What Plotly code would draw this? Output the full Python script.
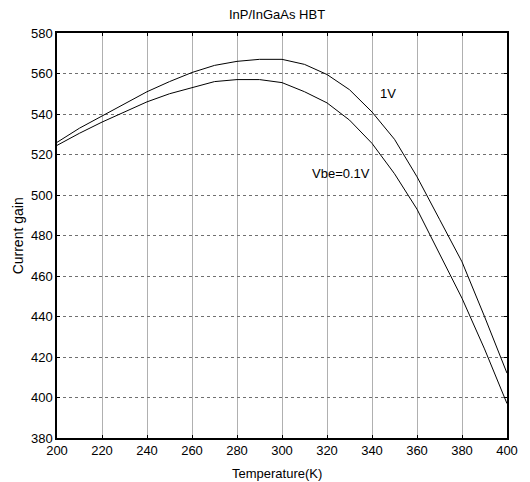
import plotly.graph_objects as go

temperature = [200, 210, 220, 230, 240, 250, 260, 270, 280, 290, 300,
               310, 320, 330, 340, 350, 360, 370, 380, 390, 400]
gain_1v = [526, 533, 539, 545, 551, 556, 560.5, 564, 566, 567, 567,
           564.5, 559.5, 552, 541, 527.5, 509, 488, 467, 440, 412]
gain_01v = [524.5, 530.5, 536, 541, 546, 550, 553, 556, 557, 557, 555.5,
            551, 545.5, 537, 525.5, 510.5, 493, 471, 449, 424, 397]

x_ticks = [200, 220, 240, 260, 280, 300, 320, 340, 360, 380, 400]
y_ticks = [380, 400, 420, 440, 460, 480, 500, 520, 540, 560, 580]

fam = "Liberation Sans, Arial, sans-serif"
font = dict(family=fam, size=13, color="black")

fig = go.Figure()
fig.add_trace(go.Scatter(x=temperature, y=gain_1v, mode="lines",
                         line=dict(color="black", width=1), showlegend=False))
fig.add_trace(go.Scatter(x=temperature, y=gain_01v, mode="lines",
                         line=dict(color="black", width=1), showlegend=False))

fig.add_annotation(x=347, y=550, text="1V", showarrow=False, font=font,
                   xref="x", yref="y", xanchor="center", yanchor="middle")
fig.add_annotation(x=326, y=510.7, text="Vbe=0.1V", showarrow=False, font=font,
                   xref="x", yref="y", xanchor="center", yanchor="middle")

W, H = 530, 482
L, R, T, B = 57, 13, 33, 44
PW, PH = W - L - R, H - T - B

fig.add_annotation(x=(282 - L) / PW, y=(H - 15 - B) / PH,
                   xref="paper", yref="paper", text="InP/InGaAs HBT",
                   showarrow=False, font=font, xanchor="center", yanchor="middle")
fig.add_annotation(x=(282 - L) / PW, y=-(474 - (H - B)) / PH,
                   xref="paper", yref="paper", text="Temperature(K)",
                   showarrow=False, font=font, xanchor="center", yanchor="middle")
fig.add_annotation(x=-(L - 17) / PW, y=0.5, textangle=-90,
                   xref="paper", yref="paper", text="Current gain",
                   showarrow=False, font=dict(family=fam, size=14, color="black"),
                   xanchor="center", yanchor="middle")

fig.update_xaxes(range=[200, 400], tickvals=x_ticks, ticks="inside", ticklen=3,
                 showline=True, linecolor="black", linewidth=1.5, mirror="ticks",
                 showgrid=True, gridcolor="#b0b0b0", gridwidth=1,
                 tickfont=font, zeroline=False, tickcolor="black")
fig.update_yaxes(range=[380, 580], tickvals=y_ticks, ticks="inside", ticklen=3,
                 showline=True, linecolor="black", linewidth=1.5, mirror="ticks",
                 showgrid=True, gridcolor="#707070", gridwidth=1, griddash="dot",
                 tickfont=font, zeroline=False, tickcolor="black")

fig.update_layout(width=W, height=H, margin=dict(l=L, r=R, t=T, b=B),
                  plot_bgcolor="white", paper_bgcolor="white")

fig.write_html("out.html")
